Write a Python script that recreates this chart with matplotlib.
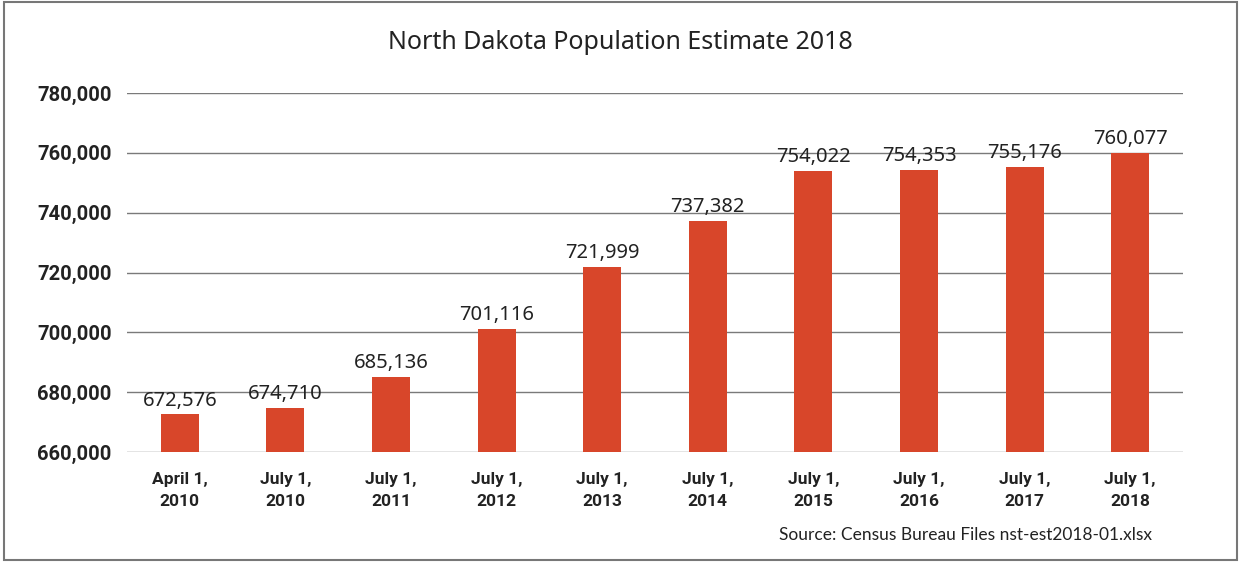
import matplotlib
matplotlib.use('Agg')
import matplotlib.pyplot as plt
from matplotlib.patches import Rectangle

# Population estimates by date
dates = ['April 1,\n2010', 'July 1,\n2010', 'July 1,\n2011', 'July 1,\n2012', 'July 1,\n2013',
         'July 1,\n2014', 'July 1,\n2015', 'July 1,\n2016', 'July 1,\n2017', 'July 1,\n2018']
population = [672576, 674710, 685136, 701116, 721999, 737382, 754022, 754353, 755176, 760077]
y_ticks = [660000, 680000, 700000, 720000, 740000, 760000, 780000]

bar_color = '#d8462a'
grid_color = '#7a7a7a'
font = 'Noto Sans'
bold_font = 'Roboto'

fig = plt.figure(figsize=(12.41, 5.63), dpi=100)
ax = fig.add_axes([0.1023, 0.197, 0.8510, 0.6378])

x = range(len(dates))
bars = ax.bar(x, population, width=0.36, color=bar_color, zorder=3)

# Value labels above bars
for bar, val in zip(bars, population):
    ax.text(bar.get_x() + bar.get_width() / 2, val + 1300, f'{val:,}',
            ha='center', va='bottom', fontsize=14.5, family=font,
            color='#222222', zorder=4)

ax.set_ylim(660000, 780000)
ax.set_xlim(-0.5, len(dates) - 0.5)
ax.set_yticks(y_ticks)
ax.set_yticklabels([f'{v:,}' for v in y_ticks], fontsize=14.5, fontweight='bold',
                   family=bold_font, color='#222222')
ax.set_xticks(list(x))
ax.set_xticklabels(dates, fontsize=12.5, fontweight='bold', family=bold_font, color='#222222',
                   linespacing=1.65)
ax.tick_params(axis='both', length=0)
ax.tick_params(axis='y', pad=11)
ax.tick_params(axis='x', pad=14)

for v in y_ticks:
    ax.axhline(v, color=grid_color, linewidth=1.0, zorder=1)
for s in ax.spines.values():
    s.set_visible(False)

fig.text(0.5, 0.925, 'North Dakota Population Estimate 2018', ha='center', va='center',
         fontsize=18, family=font, color='#222222')
fig.text(0.628, 0.05, 'Source: Census Bureau Files nst-est2018-01.xlsx', ha='left', va='center',
         fontsize=12.5, family='Lato', color='#222222')

# Frame around the figure
fig.patches.append(Rectangle((0.003, 0.005), 0.994, 0.991, transform=fig.transFigure,
                             fill=False, edgecolor='#777777', linewidth=1.5))

plt.savefig('out.png', dpi=100)
plt.close()
